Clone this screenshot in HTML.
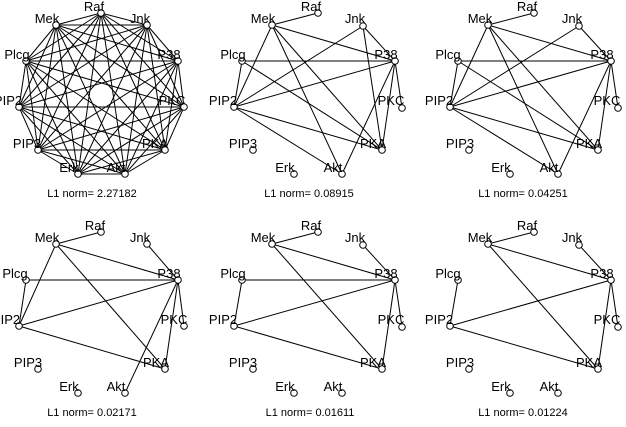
<!DOCTYPE html>
<html><head><meta charset="utf-8"><style>
html,body{margin:0;padding:0;background:#fff;}
svg{display:block;}
text{font-family:"Liberation Sans",sans-serif;font-size:13px;fill:#000;}
.cap{font-size:11px;}
</style></head><body>
<svg id="s" width="626" height="427" viewBox="0 0 626 427" xmlns="http://www.w3.org/2000/svg">
<g id="lines" stroke="#000" stroke-width="1" fill="none"></g>
<g id="nodes" stroke="#000" stroke-width="1" fill="#fff"></g>
<g text-anchor="middle" transform="translate(-3,0)">
<!-- panel 1 -->
<text x="97" y="11">Raf</text><text x="50" y="23">Mek</text><text x="143" y="23">Jnk</text><text x="20" y="59">Plcg</text><text x="172" y="59">P38</text><text x="11" y="105">PIP2</text><text x="175" y="105">PKC</text><text x="30" y="148">PIP3</text><text x="158" y="148">PKA</text><text x="72" y="172">Erk</text><text x="119" y="172">Akt</text>
<!-- panel 2 -->
<text x="314" y="11">Raf</text><text x="266" y="23">Mek</text><text x="358" y="23">Jnk</text><text x="236" y="59">Plcg</text><text x="389" y="59">P38</text><text x="226" y="105">PIP2</text><text x="394" y="105">PKC</text><text x="246" y="148">PIP3</text><text x="376" y="148">PKA</text><text x="288" y="172">Erk</text><text x="336" y="172">Akt</text>
<!-- panel 3 -->
<text x="530" y="11">Raf</text><text x="483" y="23">Mek</text><text x="575" y="23">Jnk</text><text x="451" y="59">Plcg</text><text x="605" y="59">P38</text><text x="442" y="105">PIP2</text><text x="610" y="105">PKC</text><text x="463" y="148">PIP3</text><text x="592" y="148">PKA</text><text x="504" y="172">Erk</text><text x="552" y="172">Akt</text>
<!-- panel 4 -->
<text x="98" y="230">Raf</text><text x="50" y="242">Mek</text><text x="143" y="242">Jnk</text><text x="18" y="278">Plcg</text><text x="172" y="278">P38</text><text x="9" y="324">PIP2</text><text x="177" y="324">PKC</text><text x="31" y="367">PIP3</text><text x="159" y="367">PKA</text><text x="72" y="391">Erk</text><text x="119" y="391">Akt</text>
<!-- panel 5 -->
<text x="314" y="230">Raf</text><text x="266" y="242">Mek</text><text x="358" y="242">Jnk</text><text x="236" y="278">Plcg</text><text x="389" y="278">P38</text><text x="226" y="324">PIP2</text><text x="394" y="324">PKC</text><text x="246" y="367">PIP3</text><text x="376" y="367">PKA</text><text x="288" y="391">Erk</text><text x="336" y="391">Akt</text>
<!-- panel 6 -->
<text x="530" y="230">Raf</text><text x="483" y="242">Mek</text><text x="575" y="242">Jnk</text><text x="451" y="278">Plcg</text><text x="605" y="278">P38</text><text x="442" y="324">PIP2</text><text x="610" y="324">PKC</text><text x="463" y="367">PIP3</text><text x="592" y="367">PKA</text><text x="504" y="391">Erk</text><text x="552" y="391">Akt</text>
</g>
<g text-anchor="middle">
<text class="cap" x="92" y="197">L1 norm= 2.27182</text>
<text class="cap" x="309" y="197">L1 norm= 0.08915</text>
<text class="cap" x="523" y="197">L1 norm= 0.04251</text>
<text class="cap" x="92" y="416">L1 norm= 0.02171</text>
<text class="cap" x="310" y="416">L1 norm= 0.01611</text>
<text class="cap" x="523" y="416">L1 norm= 0.01224</text>
</g>
</svg>
<script>
var names=["Raf","Mek","Jnk","Plcg","P38","PIP2","PKC","PIP3","PKA","Erk","Akt"];
var A={Raf:[101,13],Mek:[56,25],Jnk:[147,25],Plcg:[26,61],P38:[178,61],PIP2:[19,107],PKC:[184,107],PIP3:[38,150],PKA:[165,150],Erk:[78,174],Akt:[125,174]};
var B={Raf:[318,13],Mek:[272,25],Jnk:[363,26],Plcg:[242,61],P38:[395,61],PIP2:[234,107],PKC:[402,108],PIP3:[253,150],PKA:[382,150],Erk:[294,174],Akt:[342,174]};
function sh(P,dx,dy){var r={};for(var k in P)r[k]=[P[k][0]+dx,P[k][1]+dy];return r;}
var all=[];for(var i=0;i<11;i++)for(var j=i+1;j<11;j++)all.push([names[i],names[j]]);
var e2=[["Mek","Raf"],["Mek","P38"],["Mek","PIP2"],["Mek","Akt"],["Mek","PKA"],["Jnk","PIP2"],["Jnk","P38"],["Jnk","PKA"],["Plcg","P38"],["Plcg","PKA"],["Plcg","PIP2"],["PIP2","P38"],["PIP2","PKA"],["PIP2","Akt"],["P38","PKC"],["P38","PKA"],["P38","Akt"]];
var e3=e2.filter(function(e){return !(e[0]=="Jnk"&&e[1]=="PKA");});
var e4=[["Mek","Raf"],["Mek","P38"],["Mek","PIP2"],["Mek","PKA"],["Jnk","P38"],["Plcg","P38"],["Plcg","PIP2"],["PIP2","P38"],["PIP2","PKA"],["P38","PKC"],["P38","PKA"],["P38","Akt"]];
var e5=[["Mek","Raf"],["Mek","P38"],["Mek","PKA"],["Jnk","P38"],["Plcg","P38"],["Plcg","PIP2"],["PIP2","P38"],["PIP2","PKA"],["P38","PKC"],["P38","PKA"]];
var e6=e5.filter(function(e){return !(e[0]=="Plcg"&&e[1]=="P38");});
var panels=[[A,all],[B,e2],[sh(B,216,0),e3],[sh(A,0,219),e4],[sh(B,0,219),e5],[sh(B,216,219),e6]];
var L=document.getElementById("lines"),N=document.getElementById("nodes"),ns="http://www.w3.org/2000/svg";
panels.forEach(function(p){var P=p[0];
p[1].forEach(function(e){var l=document.createElementNS(ns,"line");l.setAttribute("x1",P[e[0]][0]);l.setAttribute("y1",P[e[0]][1]);l.setAttribute("x2",P[e[1]][0]);l.setAttribute("y2",P[e[1]][1]);L.appendChild(l);});
names.forEach(function(n){var c=document.createElementNS(ns,"circle");c.setAttribute("cx",P[n][0]);c.setAttribute("cy",P[n][1]);c.setAttribute("r",3.3);N.appendChild(c);});
});
</script>
</body></html>
